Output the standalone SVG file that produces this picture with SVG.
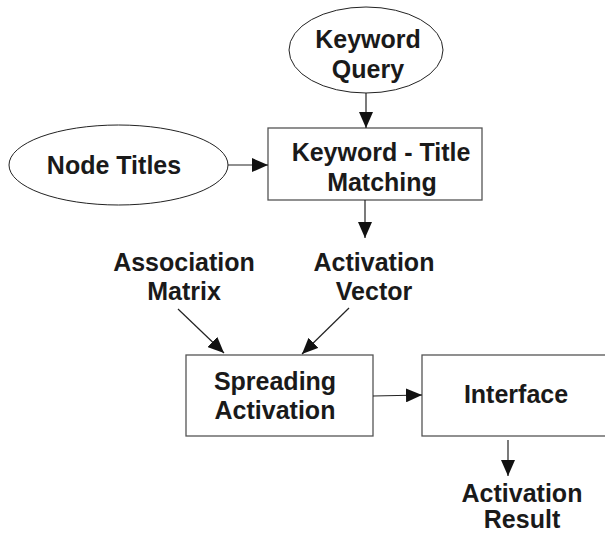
<svg xmlns="http://www.w3.org/2000/svg" width="605" height="533" viewBox="0 0 605 533">
<style>
  .box { fill: #ffffff; stroke: #555555; stroke-width: 1.3; }
  .ell { fill: #ffffff; stroke: #222222; stroke-width: 1; }
  .lbl { font-family: "Liberation Sans", Arial, sans-serif; font-weight: bold; font-size: 25px; fill: #1a1a1a; text-anchor: middle; }
  .conn { stroke: #222222; stroke-width: 1.2; fill: none; marker-end: url(#ah); }
</style>
<defs>
  <marker id="ah" markerUnits="userSpaceOnUse" markerWidth="17" markerHeight="14" refX="16" refY="7" orient="auto">
    <path d="M0,0 L16,7 L0,14 Z" fill="#111111"/>
  </marker>
</defs>
<rect width="605" height="533" fill="#ffffff"/>

<g id="keyword-query">
  <ellipse class="ell" cx="366" cy="50" rx="77" ry="43"/>
  <text class="lbl" x="368" y="48">Keyword</text>
  <text class="lbl" x="368" y="78">Query</text>
</g>

<g id="node-titles">
  <ellipse class="ell" cx="118.5" cy="165" rx="109.5" ry="40"/>
  <text class="lbl" x="114" y="174">Node Titles</text>
</g>

<g id="keyword-title-matching">
  <rect class="box" x="268" y="128" width="214" height="72"/>
  <text class="lbl" x="381" y="161">Keyword - Title</text>
  <text class="lbl" x="382" y="191">Matching</text>
</g>

<g id="association-matrix">
  <text class="lbl" x="184" y="271">Association</text>
  <text class="lbl" x="184" y="300">Matrix</text>
</g>

<g id="activation-vector">
  <text class="lbl" x="374" y="271">Activation</text>
  <text class="lbl" x="374" y="300">Vector</text>
</g>

<g id="spreading-activation">
  <rect class="box" x="186" y="355" width="187" height="81"/>
  <text class="lbl" x="275" y="390">Spreading</text>
  <text class="lbl" x="275" y="419">Activation</text>
</g>

<g id="interface">
  <rect class="box" x="422" y="355" width="200" height="81"/>
  <text class="lbl" x="516" y="403">Interface</text>
</g>

<g id="activation-result">
  <text class="lbl" x="522" y="502">Activation</text>
  <text class="lbl" x="522" y="528">Result</text>
</g>

<g id="connectors">
  <line class="conn" x1="366" y1="93" x2="366" y2="128"/>
  <line class="conn" x1="228" y1="165" x2="268" y2="165"/>
  <line class="conn" x1="365" y1="200" x2="365" y2="238"/>
  <line class="conn" x1="178" y1="309" x2="224" y2="353"/>
  <line class="conn" x1="349" y1="308" x2="302" y2="354"/>
  <line class="conn" x1="373" y1="396" x2="422" y2="395"/>
  <line class="conn" x1="508" y1="440" x2="508" y2="476"/>
</g>
</svg>
